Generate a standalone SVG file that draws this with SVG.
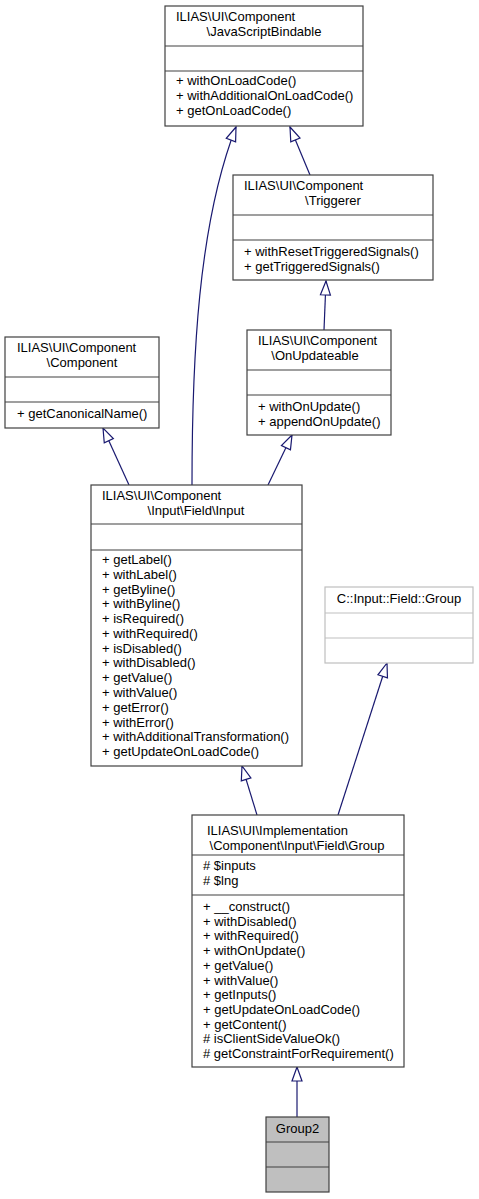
<svg xmlns="http://www.w3.org/2000/svg" width="479" height="1199" viewBox="0 0 479 1199">
<style>
  .box { fill: #ffffff; stroke: #404040; stroke-width: 1.2; }
  .ext { fill: #ffffff; stroke: #bfbfbf; stroke-width: 1.2; }
  .cur { fill: #bfbfbf; stroke: #404040; stroke-width: 1.2; }
  .sep { stroke: #404040; stroke-width: 1.2; }
  .sepx { stroke: #bfbfbf; stroke-width: 1.2; }
  text { font-family: "Liberation Sans", Arial, sans-serif; font-size: 13px; fill: #000000; }
  .c { text-anchor: middle; }
  .edge { fill: none; stroke: #191970; stroke-width: 1.2; marker-end: url(#inh); }
</style>
<defs>
  <marker id="inh" markerUnits="userSpaceOnUse" viewBox="-2 -7 18 14" markerWidth="18" markerHeight="14" refX="14" refY="0" orient="auto">
    <path d="M14,0 L0,-5 L0,5 Z" fill="#ffffff" stroke="#191970" stroke-width="1.2"/>
  </marker>
</defs>
<rect width="479" height="1199" fill="#ffffff"/>

<g id="connectors">
  <path class="edge" d="M192,485 C192,360 198,225 236,127"/>
  <path class="edge" d="M310,175 L290,127"/>
  <path class="edge" d="M324,330 L326,281"/>
  <path class="edge" d="M129,485 L103,428"/>
  <path class="edge" d="M268,485 L292,435"/>
  <path class="edge" d="M257,815 L242,766"/>
  <path class="edge" d="M338,815 L387,663"/>
  <path class="edge" d="M297,1117 L297,1067"/>
</g>

<g id="node-javascriptbindable">
  <rect class="box" x="165" y="6" width="198" height="120"/>
  <line class="sep" x1="165" y1="46" x2="363" y2="46"/>
  <line class="sep" x1="165" y1="71" x2="363" y2="71"/>
  <text x="176" y="21">ILIAS\UI\Component</text>
  <text class="c" x="264" y="36">\JavaScriptBindable</text>
  <text x="176" y="85">+ withOnLoadCode()</text>
  <text x="176" y="100">+ withAdditionalOnLoadCode()</text>
  <text x="176" y="115">+ getOnLoadCode()</text>
</g>

<g id="node-triggerer">
  <rect class="box" x="233" y="175" width="200" height="105"/>
  <line class="sep" x1="233" y1="215" x2="433" y2="215"/>
  <line class="sep" x1="233" y1="240" x2="433" y2="240"/>
  <text x="244" y="190">ILIAS\UI\Component</text>
  <text class="c" x="333" y="205">\Triggerer</text>
  <text x="244" y="256">+ withResetTriggeredSignals()</text>
  <text x="244" y="271">+ getTriggeredSignals()</text>
</g>

<g id="node-component">
  <rect class="box" x="5" y="337" width="154" height="91"/>
  <line class="sep" x1="5" y1="377" x2="159" y2="377"/>
  <line class="sep" x1="5" y1="402" x2="159" y2="402"/>
  <text x="17" y="352">ILIAS\UI\Component</text>
  <text class="c" x="82" y="367">\Component</text>
  <text x="17" y="418">+ getCanonicalName()</text>
</g>

<g id="node-onupdateable">
  <rect class="box" x="247" y="330" width="144" height="105"/>
  <line class="sep" x1="247" y1="370" x2="391" y2="370"/>
  <line class="sep" x1="247" y1="395" x2="391" y2="395"/>
  <text x="258" y="345">ILIAS\UI\Component</text>
  <text class="c" x="315" y="360">\OnUpdateable</text>
  <text x="258" y="411">+ withOnUpdate()</text>
  <text x="258" y="426">+ appendOnUpdate()</text>
</g>

<g id="node-input">
  <rect class="box" x="91" y="485" width="211" height="281"/>
  <line class="sep" x1="91" y1="524" x2="302" y2="524"/>
  <line class="sep" x1="91" y1="550" x2="302" y2="550"/>
  <text x="102" y="500">ILIAS\UI\Component</text>
  <text class="c" x="196" y="515">\Input\Field\Input</text>
  <text x="102" y="564">+ getLabel()</text>
  <text x="102" y="578.8">+ withLabel()</text>
  <text x="102" y="593.5">+ getByline()</text>
  <text x="102" y="608.3">+ withByline()</text>
  <text x="102" y="623.1">+ isRequired()</text>
  <text x="102" y="637.8">+ withRequired()</text>
  <text x="102" y="652.6">+ isDisabled()</text>
  <text x="102" y="667.4">+ withDisabled()</text>
  <text x="102" y="682.2">+ getValue()</text>
  <text x="102" y="696.9">+ withValue()</text>
  <text x="102" y="711.7">+ getError()</text>
  <text x="102" y="726.5">+ withError()</text>
  <text x="102" y="741.2">+ withAdditionalTransformation()</text>
  <text x="102" y="756">+ getUpdateOnLoadCode()</text>
</g>

<g id="node-c-input-field-group">
  <rect class="ext" x="325" y="587" width="148" height="76"/>
  <line class="sepx" x1="325" y1="613" x2="473" y2="613"/>
  <line class="sepx" x1="325" y1="638" x2="473" y2="638"/>
  <text class="c" x="399" y="603">C::Input::Field::Group</text>
</g>

<g id="node-group-impl">
  <rect class="box" x="192" y="815" width="212" height="252"/>
  <line class="sep" x1="192" y1="855" x2="404" y2="855"/>
  <line class="sep" x1="192" y1="895" x2="404" y2="895"/>
  <text x="207" y="835">ILIAS\UI\Implementation</text>
  <text class="c" x="297" y="850">\Component\Input\Field\Group</text>
  <text x="203" y="870">#  $inputs</text>
  <text x="203" y="885">#  $lng</text>
  <text x="203" y="911">+  __construct()</text>
  <text x="203" y="925.7">+ withDisabled()</text>
  <text x="203" y="940.4">+ withRequired()</text>
  <text x="203" y="955.1">+ withOnUpdate()</text>
  <text x="203" y="969.8">+ getValue()</text>
  <text x="203" y="984.5">+ withValue()</text>
  <text x="203" y="999.2">+ getInputs()</text>
  <text x="203" y="1013.9">+ getUpdateOnLoadCode()</text>
  <text x="203" y="1028.6">+ getContent()</text>
  <text x="203" y="1043.3"># isClientSideValueOk()</text>
  <text x="203" y="1058"># getConstraintForRequirement()</text>
</g>

<g id="node-group2">
  <rect class="cur" x="266" y="1117" width="63" height="75"/>
  <line class="sep" x1="266" y1="1142" x2="329" y2="1142"/>
  <line class="sep" x1="266" y1="1167" x2="329" y2="1167"/>
  <text class="c" x="297.5" y="1133">Group2</text>
</g>
</svg>
